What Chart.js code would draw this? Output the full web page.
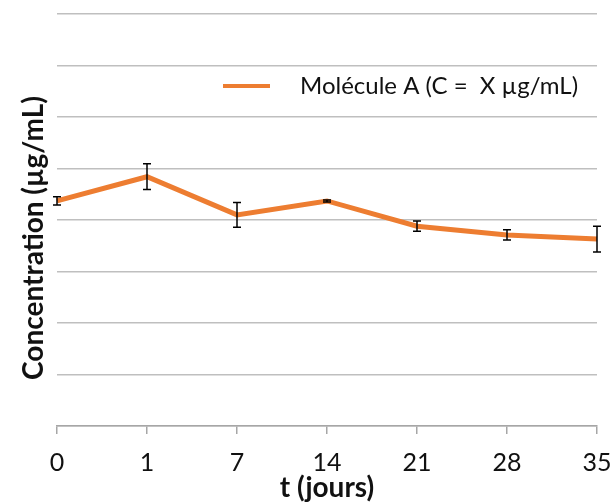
<!DOCTYPE html>
<html>
<head>
<meta charset="utf-8">
<script src="https://cdn.jsdelivr.net/npm/chart.js@4"></script>
<style>
html,body{margin:0;padding:0;background:#fff}
#wrap{width:610px;height:503px}
</style>
</head>
<body>
<div id="wrap"><canvas id="c" width="610" height="503"></canvas></div>
<script>
// data
const days = ["0","1","7","14","21","28","35"]
const concentration = [4.37, 4.84, 4.10, 4.37, 3.88, 3.71, 3.63]
const errors = [0.08, 0.25, 0.24, 0.02, 0.10, 0.10, 0.25]
const seriesName = "Molécule A (C =  X µg/mL)"

const orange = "#ED7D31"
const ink = "#111"

// error bars through the y scale
const errorBars = {
id: "errorBars",
afterDatasetsDraw(chart) {
const ctx = chart.ctx
const meta = chart.getDatasetMeta(0)
const y = chart.scales.y
ctx.save()
ctx.strokeStyle = "#000"
ctx.lineWidth = 1.5
meta.data.forEach((pt, i) => {
const top = y.getPixelForValue(concentration[i] + errors[i])
const bot = y.getPixelForValue(concentration[i] - errors[i])
ctx.beginPath()
ctx.moveTo(pt.x, top); ctx.lineTo(pt.x, bot)
ctx.moveTo(pt.x - 4, top); ctx.lineTo(pt.x + 4, top)
ctx.moveTo(pt.x - 4, bot); ctx.lineTo(pt.x + 4, bot)
ctx.stroke()
})
ctx.restore()
}
}

// legend inside the plot + rotated y title
const extras = {
id: "extras",
afterDraw(chart) {
const ctx = chart.ctx
ctx.save()
ctx.strokeStyle = orange
ctx.lineWidth = 4
ctx.beginPath()
ctx.moveTo(223, 86); ctx.lineTo(270, 86)
ctx.stroke()
ctx.fillStyle = ink
ctx.font = "24px Lato"
ctx.textBaseline = "middle"
ctx.fillText(seriesName, 300, 86)

ctx.translate(34, 238)
ctx.rotate(-Math.PI / 2)
ctx.font = "bold 28px Lato"
ctx.textAlign = "center"
ctx.fillText("Concentration (µg/mL)", 0, 0)
ctx.restore()
}
}

new Chart(document.getElementById("c"), {
type: "line",
data: {
labels: days,
datasets: [{
label: seriesName,
data: concentration,
borderColor: orange,
backgroundColor: orange,
borderWidth: 5,
pointRadius: 0,
tension: 0
}]
},
options: {
responsive: false,
animation: false,
layout: { padding: { left: 18, top: 14, right: 13, bottom: 0 } },
plugins: { legend: { display: false }, tooltip: { enabled: false } },
scales: {
x: {
offset: false,
afterFit: s => { s.height = 77; s.paddingRight = 0; s.paddingLeft = 0 },
grid: { drawOnChartArea: false, drawTicks: true, tickLength: 8, color: "#a6a6a6", lineWidth: 1.5 },
border: { color: "#a6a6a6", width: 1.5 },
ticks: { padding: 14, color: ink, font: { family: "Lato", size: 25 }, maxRotation: 0 },
title: { display: true, text: "t (jours)", color: ink, font: { family: "Lato", size: 28, weight: "bold", lineHeight: 1.1 }, padding: { top: 0, bottom: 0 } }
},
y: {
min: 0, max: 8,
afterFit: s => { s.width = 39 },
ticks: { display: false, stepSize: 1 },
grid: { color: "#bfbfbf", lineWidth: 1.5, drawTicks: false },
border: { display: false }
}
}
},
plugins: [errorBars, extras]
})
</script>
</body>
</html>
